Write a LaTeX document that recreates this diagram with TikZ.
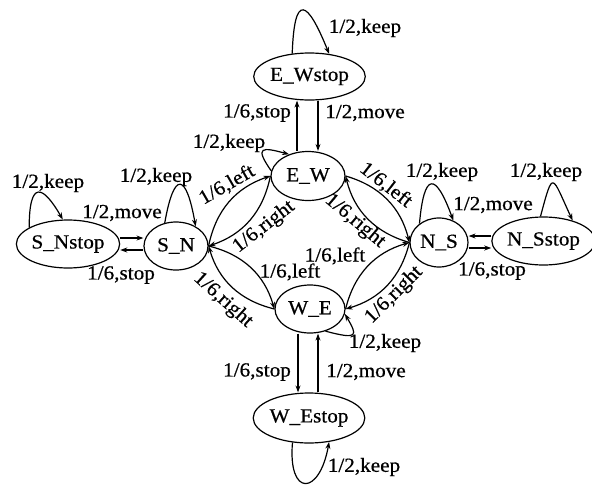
\documentclass[tikz,border=0pt]{standalone}
\usepackage{fontspec}
\setmainfont{Liberation Serif}[FakeStretch=1.06,FakeBold=0.6]
\usetikzlibrary{arrows.meta,shapes.geometric}

\begin{document}
\begin{tikzpicture}[x=1pt,y=1pt,
  state/.style={draw,ellipse,line width=1.2pt,inner sep=0pt,font=\fontsize{20}{22}\selectfont},
  arr/.style={line width=1.2pt,-{Stealth[length=7pt,width=5pt]}},
  lbl/.style={inner sep=0pt,font=\fontsize{20}{22}\selectfont}]
\useasboundingbox (0,0) rectangle (592,-485);
% states
\node[state,minimum width=95pt,minimum height=47pt] (EWs) at (309.5,-76.5) {E\_Wstop};
\node[state,minimum width=74pt,minimum height=49pt] (EW) at (308,-176) {E\_W};
\node[state,minimum width=90pt,minimum height=48pt] (SNs) at (68,-244) {S\_Nstop};
\node[state,minimum width=64pt,minimum height=48pt] (SN) at (176,-246) {S\_N};
\node[state,minimum width=58pt,minimum height=49pt] (NS) at (439,-242.5) {N\_S};
\node[state,minimum width=87pt,minimum height=48pt] (NSs) at (543.5,-241) {N\_Sstop};
\node[state,minimum width=70pt,minimum height=48pt] (WE) at (310,-309) {W\_E};
\node[state,minimum width=92pt,minimum height=50pt] (WEs) at (309,-418) {W\_Estop};
% self loops
\draw[arr] (EWs.127) .. controls +(88:62) and +(112:58) .. (EWs.49);
\draw[arr] (EW.172) .. controls +(125:30) and +(165:28) .. (EW.131);
\draw[arr] (SNs.157) .. controls +(90:48) and +(120:40) .. (SNs.102);
\draw[arr] (SN.116) .. controls +(80:54) and +(100:54) .. (SN.45);
\draw[arr] (NS.136) .. controls +(85:52) and +(110:52) .. (NS.57);
\draw[arr] (NSs.97) .. controls +(75:50) and +(115:50) .. (NSs.35);
\draw[arr] (WE.-55) .. controls +(-15:35) and +(-60:25) .. (WE.-8);
\draw[arr] (WEs.-124) .. controls +(-95:55) and +(-100:55) .. (WEs.-50);
% stop / move
\draw[arr] ([xshift=-11pt]EW.north) -- ([xshift=-12.5pt]EWs.south);
\draw[arr] ([xshift=8.5pt]EWs.south) -- ([xshift=10pt]EW.north);
\draw[arr] ([yshift=6pt]SNs.east) -- ([yshift=8pt]SN.west);
\draw[arr] ([yshift=-4pt]SN.west) -- ([yshift=-6pt]SNs.east);
\draw[arr] ([yshift=5pt]NSs.west) -- ([yshift=6.5pt]NS.east);
\draw[arr] ([yshift=-5.5pt]NS.east) -- ([yshift=-7pt]NSs.west);
\draw[arr] ([xshift=-12pt]WE.south) -- ([xshift=-11pt]WEs.north);
\draw[arr] ([xshift=9pt]WEs.north) -- ([xshift=8pt]WE.south);
% turns
\draw[arr] (SN.east) to[bend left=30] (EW.west);
\draw[arr] (EW.west) to[bend left=30] (SN.east);
\draw[arr] (EW.east) to[bend left=30] (NS.west);
\draw[arr] (NS.west) to[bend left=30] (EW.east);
\draw[arr] (NS.west) to[bend left=30] (WE.east);
\draw[arr] (WE.east) to[bend left=30] (NS.west);
\draw[arr] (WE.west) to[bend left=30] (SN.east);
\draw[arr] (SN.east) to[bend left=30] (WE.west);
% labels
\node[lbl] (kEWs) at (365,-28) {1/2,keep};
\node[lbl] (sEW) at (257,-113) {1/6,stop};
\node[lbl] (mEW) at (365,-113) {1/2,move};
\node[lbl] (kEW) at (229,-143) {1/2,keep};
\node[lbl] (kSNs) at (48,-183) {1/2,keep};
\node[lbl] (kSN) at (156,-177) {1/2,keep};
\node[lbl] (mSN) at (122,-213) {1/2,move};
\node[lbl] (sSN) at (121,-275) {1/6,stop};
\node[lbl,rotate=30] (lSN) at (227,-185) {1/6,left};
\node[lbl,rotate=38] (rEW) at (264,-227) {1/6,right};
\node[lbl] (lWE) at (290,-272) {1/6,left};
\node[lbl,rotate=-42] (rSN) at (223,-300) {1/6,right};
\node[lbl,rotate=-38] (lEW) at (386,-185) {1/6,left};
\node[lbl,rotate=-40] (rNS) at (355,-221) {1/6,right};
\node[lbl] (lNS) at (335,-256) {1/6,left};
\node[lbl,rotate=45] (rWE) at (394,-295) {1/6,right};
\node[lbl] (kNS) at (442,-172) {1/2,keep};
\node[lbl] (mNS) at (493,-205) {1/2,move};
\node[lbl] (kNSs) at (546,-172) {1/2,keep};
\node[lbl] (sNS) at (492,-271) {1/6,stop};
\node[lbl] (kWE) at (385,-343) {1/2,keep};
\node[lbl] (sWE) at (257,-372) {1/6,stop};
\node[lbl] (mWE) at (366,-372) {1/2,move};
\node[lbl] (kWEs) at (364,-467) {1/2,keep};
\end{tikzpicture}
\end{document}
